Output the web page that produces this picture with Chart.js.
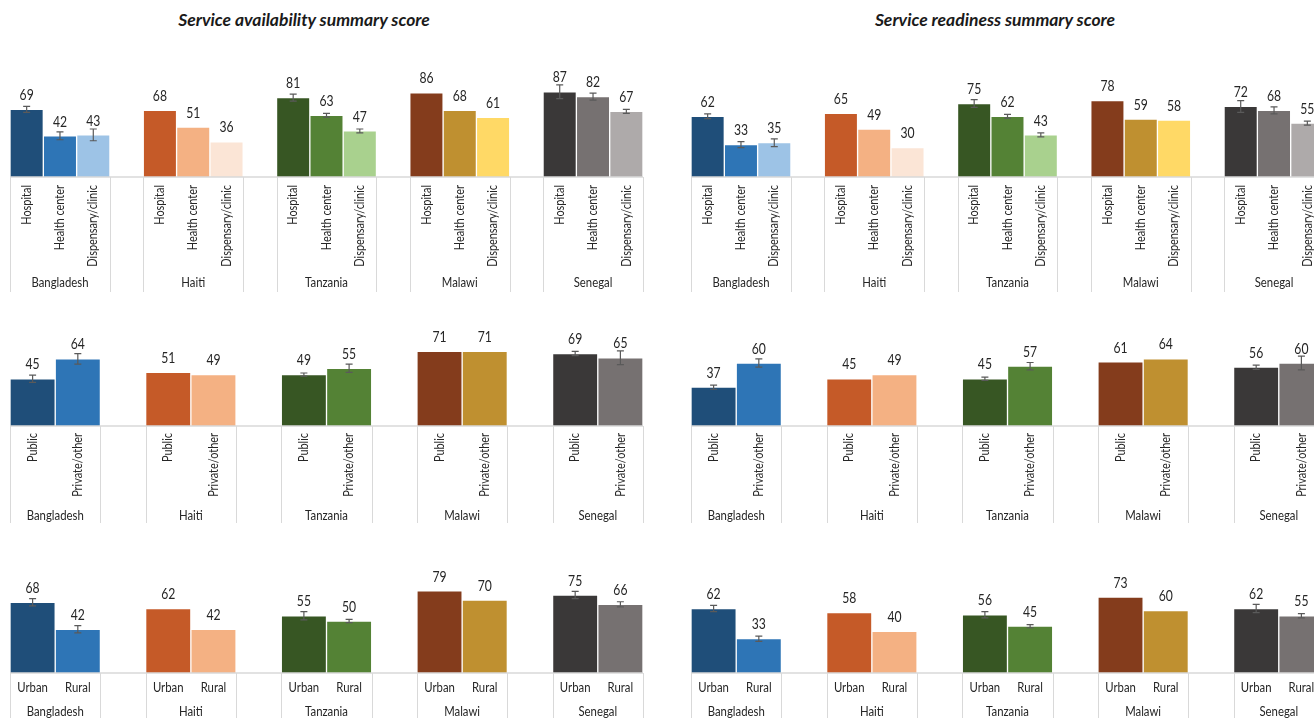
<!DOCTYPE html>
<html>
<head>
<meta charset="utf-8">
<script src="https://cdn.jsdelivr.net/npm/chart.js@4"></script>
<style>
  html, body { margin: 0; padding: 0; background: #fff; overflow: hidden; width: 1314px; height: 718px; }
  .title { position: absolute; top: 9px; font: italic bold 17.5px Lato, sans-serif; color: #1a1a1a; transform: translateX(-50%); white-space: nowrap; }
  .panel { position: absolute; }
</style>
</head>
<body>
<div class="title" style="left:304px">Service availability summary score</div>
<div class="title" style="left:995px">Service readiness summary score</div>
<div id="wrap"></div>
<script>
const countries = ['Bangladesh', 'Haiti', 'Tanzania', 'Malawi', 'Senegal'];
const typeLabels = ['Hospital', 'Health center', 'Dispensary/clinic'];
const sectorLabels = ['Public', 'Private/other'];
const locLabels = ['Urban', 'Rural'];

// scores by country, then by category
const availType = [[69, 42, 43], [68, 51, 36], [81, 63, 47], [86, 68, 61], [87, 82, 67]];
const availTypeErr = [[3, 4, 6], [0, 0, 0], [3.5, 2, 2], [0, 0, 0], [7, 3.5, 2]];
const readyType = [[62, 33, 35], [65, 49, 30], [75, 62, 43], [78, 59, 58], [72, 68, 55]];
const readyTypeErr = [[2.5, 3, 4], [0, 0, 0], [4, 2, 2], [0, 0, 0], [6, 3.5, 2]];

const availSector = [[45, 64], [51, 49], [49, 55], [71, 71], [69, 65]];
const availSectorErr = [[3.5, 5], [0, 0], [1.5, 4], [0, 0], [2, 6.5]];
const readySector = [[37, 60], [45, 49], [45, 57], [61, 64], [56, 60]];
const readySectorErr = [[2, 4], [0, 0], [1.5, 3.5], [0, 0], [2, 6.5]];

const availLoc = [[68, 42], [62, 42], [55, 50], [79, 70], [75, 66]];
const availLocErr = [[3.5, 3.5], [0, 0], [4, 1.5], [0, 0], [3.5, 2.5]];
const readyLoc = [[62, 33], [58, 40], [56, 45], [73, 60], [62, 55]];
const readyLocErr = [[3, 2.5], [0, 0], [3, 1.5], [0, 0], [4, 2]];

const palette = [
  ['#1f4e79', '#2e75b6', '#9dc3e6'],
  ['#c55a28', '#f4b183', '#fbe5d6'],
  ['#375623', '#548235', '#a9d18e'],
  ['#843c1c', '#bf9030', '#ffd966'],
  ['#3a3838', '#767171', '#aeaaaa']
];

const FONT = 'Lato, sans-serif';
const SQUEEZE = 0.84; // narrow the text a little, like the original font

// flatten groups into one category list, with an empty slot between countries
function flat(groups, blank) {
  const out = [];
  groups.forEach((g, i) => {
    out.push(...g);
    if (i < groups.length - 1) out.push(blank);
  });
  return out;
}

function text(ctx, s, x, y, size, align, rot) {
  ctx.save();
  ctx.translate(x, y);
  if (rot) ctx.rotate(-Math.PI / 2);
  ctx.scale(SQUEEZE, 1);
  ctx.font = size + 'px ' + FONT;
  ctx.fillStyle = '#262626';
  ctx.textAlign = align;
  ctx.textBaseline = 'middle';
  ctx.fillText(s, 0, 0);
  ctx.restore();
}

const panels = [
  { left: 0, top: 60, h: 235, vals: availType, errs: availTypeErr, cats: typeLabels, rot: true, base: 177, ppu: 0.98, catY: 8, countryY: 106, lineEnd: 115 },
  { left: 681, top: 60, h: 235, vals: readyType, errs: readyTypeErr, cats: typeLabels, rot: true, base: 177, ppu: 0.98, catY: 8, countryY: 106, lineEnd: 115 },
  { left: 0, top: 305, h: 220, vals: availSector, errs: availSectorErr, cats: sectorLabels, rot: true, base: 426, ppu: 1.05, catY: 7, countryY: 90, lineEnd: 97 },
  { left: 681, top: 305, h: 220, vals: readySector, errs: readySectorErr, cats: sectorLabels, rot: true, base: 426, ppu: 1.05, catY: 7, countryY: 90, lineEnd: 97 },
  { left: 0, top: 550, h: 168, vals: availLoc, errs: availLocErr, cats: locLabels, rot: false, base: 673, ppu: 1.04, catY: 15, countryY: 39, lineEnd: 50 },
  { left: 681, top: 550, h: 168, vals: readyLoc, errs: readyLocErr, cats: locLabels, rot: false, base: 673, ppu: 1.04, catY: 15, countryY: 39, lineEnd: 50 }
];

const decor = {
  id: 'decor',
  afterDatasetsDraw(chart, args, o) {
    const ctx = chart.ctx;
    const xs = chart.scales.x, ys = chart.scales.y;
    const area = chart.chartArea;
    const n = o.cats.length;
    const w = (area.right - area.left) / chart.data.labels.length;
    const y0 = area.bottom;
    ctx.save();
    // axis line
    ctx.strokeStyle = '#d9d9d9';
    ctx.lineWidth = 1.5;
    ctx.beginPath();
    ctx.moveTo(area.left, y0);
    ctx.lineTo(area.right, y0);
    ctx.stroke();
    // group separators, category labels, country labels
    ctx.lineWidth = 1;
    o.vals.forEach((g, gi) => {
      const first = gi * (n + 1);
      const x1 = xs.getPixelForValue(first) - w / 2;
      const x2 = xs.getPixelForValue(first + n - 1) + w / 2;
      [x1, x2].forEach(x => {
        ctx.beginPath();
        ctx.moveTo(Math.round(x) + 0.5, y0);
        ctx.lineTo(Math.round(x) + 0.5, y0 + o.lineEnd);
        ctx.stroke();
      });
      o.cats.forEach((c, ci) => {
        const cx = xs.getPixelForValue(first + ci);
        if (o.rot) text(ctx, c, cx, y0 + o.catY, 13, 'right', true);
        else text(ctx, c, cx, y0 + o.catY, 13.5, 'center', false);
      });
      text(ctx, countries[gi], (x1 + x2) / 2, y0 + o.countryY, 13.5, 'center', false);
    });
    // error bars and value labels
    const meta = chart.getDatasetMeta(0);
    o.vals.forEach((g, gi) => {
      g.forEach((v, ci) => {
        const idx = gi * (n + 1) + ci;
        const cx = meta.data[idx].x;
        const e = o.errs[gi][ci];
        if (e > 0) {
          const ya = ys.getPixelForValue(v + e), yb = ys.getPixelForValue(v - e);
          ctx.strokeStyle = '#5a5a5a';
          ctx.lineWidth = 1.2;
          ctx.beginPath();
          ctx.moveTo(cx, ya); ctx.lineTo(cx, yb);
          ctx.moveTo(cx - 3.5, ya); ctx.lineTo(cx + 3.5, ya);
          ctx.moveTo(cx - 3.5, yb); ctx.lineTo(cx + 3.5, yb);
          ctx.stroke();
        }
        text(ctx, String(v), cx, ys.getPixelForValue(v) - 14, 14.5, 'center', false);
      });
    });
    ctx.restore();
  }
};

const wrap = document.getElementById('wrap');
panels.forEach(p => {
  const div = document.createElement('div');
  div.className = 'panel';
  div.style.left = p.left + 'px';
  div.style.top = p.top + 'px';
  div.style.width = '660px';
  div.style.height = p.h + 'px';
  const cv = document.createElement('canvas');
  div.appendChild(cv);
  wrap.appendChild(div);

  const labels = flat(p.vals.map(() => p.cats), '');
  const data = flat(p.vals, null);
  const colors = flat(p.vals.map((g, gi) => g.map((v, ci) => palette[gi][ci])), 'rgba(0,0,0,0)');
  const plotTop = p.base - 100 * p.ppu;

  new Chart(cv, {
    type: 'bar',
    data: {
      labels: labels,
      datasets: [{
        data: data,
        backgroundColor: colors,
        borderColor: 'rgba(255,255,255,0.35)',
        borderWidth: 1,
        barPercentage: 1,
        categoryPercentage: 1
      }]
    },
    options: {
      responsive: true,
      maintainAspectRatio: false,
      animation: false,
      layout: { padding: { left: 10, right: 17, top: plotTop - p.top, bottom: p.top + p.h - p.base } },
      plugins: {
        legend: { display: false },
        tooltip: { enabled: false },
        decor: { vals: p.vals, errs: p.errs, cats: p.cats, rot: p.rot, catY: p.catY, countryY: p.countryY, lineEnd: p.lineEnd }
      },
      scales: {
        x: { display: false },
        y: { display: false, min: 0, max: 100 }
      }
    },
    plugins: [decor]
  });
});
</script>
</body>
</html>
